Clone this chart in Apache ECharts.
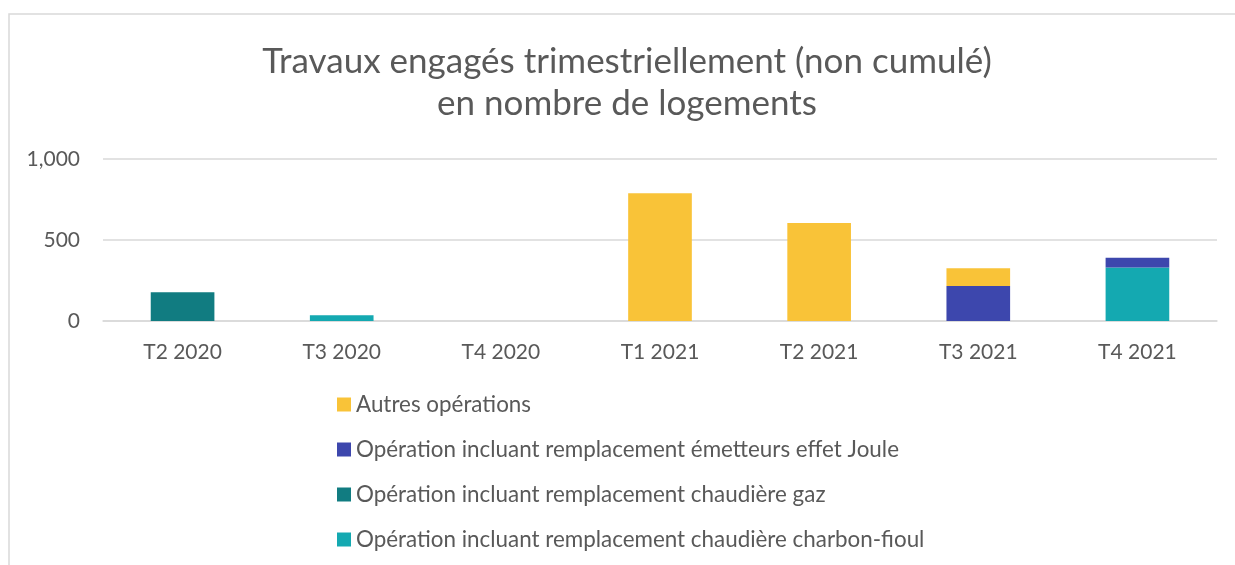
<!DOCTYPE html>
<html>
<head>
<meta charset="utf-8">
<script src="https://cdn.jsdelivr.net/npm/echarts@6/dist/echarts.min.js"></script>
<style>
  html, body { margin: 0; padding: 0; background: #fff; }
  #chart { width: 1235px; height: 565px; }
</style>
</head>
<body>
<div id="chart"></div>
<script>
// trimestres
var quarters = ["T2 2020", "T3 2020", "T4 2020", "T1 2021", "T2 2021", "T3 2021", "T4 2021"];
// series, bottom of the stack first
var charbonFioul = [0, 35, 0, 0, 0, 0, 331];
var chaudiereGaz = [177, 0, 0, 0, 0, 0, 0];
var effetJoule = [0, 0, 0, 0, 0, 216, 60];
var autres = [0, 0, 0, 788, 605, 109, 0];
var yTicks = [0, 500, 1000];

var names = {
    autres: "Autres opérations",
    joule: "Opération incluant remplacement émetteurs effet Joule",
    gaz: "Opération incluant remplacement chaudière gaz",
    fioul: "Opération incluant remplacement chaudière charbon-fioul"
};

var font = "Lato, 'Open Sans', sans-serif";
var grey = "#595959";

function bar(name, data, color) {
    return {
        name: name,
        type: "bar",
        stack: "total",
        barWidth: "40%",
        data: data,
        itemStyle: { color: color },
        emphasis: { disabled: true }
    };
}

var chart = echarts.init(document.getElementById("chart"));
chart.setOption({
    animation: false,
    textStyle: { fontFamily: font },
    title: {
        text: "Travaux engagés trimestriellement (non cumulé)\nen nombre de logements",
        left: 622,
        top: 36,
        textAlign: "center",
        textStyle: { fontSize: 35, fontWeight: "normal", color: grey, lineHeight: 42, fontFamily: font }
    },
    graphic: [{
        type: "rect",
        shape: { x: 9, y: 14, width: 1240, height: 560 },
        style: { fill: "none", stroke: "#d9d9d9", lineWidth: 1.5 },
        silent: true
    }],
    legend: {
        orient: "vertical",
        left: 337,
        top: 393,
        height: 170,
        padding: 0,
        itemWidth: 14,
        itemHeight: 14,
        itemGap: 22,
        icon: "rect",
        data: [names.autres, names.joule, names.gaz, names.fioul],
        textStyle: { fontSize: 22.4, lineHeight: 23, color: grey, fontFamily: font }
    },
    grid: { left: 103, right: 18, top: 159, bottom: 244 },
    xAxis: {
        type: "category",
        data: quarters,
        axisLine: { lineStyle: { color: "#d9d9d9", width: 1.5 } },
        axisTick: { show: false },
        axisLabel: { fontSize: 21, color: grey, margin: 21 }
    },
    yAxis: {
        type: "value",
        min: yTicks[0],
        max: yTicks[yTicks.length - 1],
        interval: yTicks[1] - yTicks[0],
        axisLine: { show: false },
        axisTick: { show: false },
        splitLine: { lineStyle: { color: "#d9d9d9", width: 1.5 } },
        axisLabel: {
            fontSize: 21, color: grey, margin: 23,
            formatter: function (v) { return v.toLocaleString("en-US"); }
        }
    },
    series: [
        bar(names.fioul, charbonFioul, "#14A9B1"),
        bar(names.gaz, chaudiereGaz, "#117C81"),
        bar(names.joule, effetJoule, "#3D47AD"),
        bar(names.autres, autres, "#F9C338")
    ]
});
</script>
</body>
</html>
